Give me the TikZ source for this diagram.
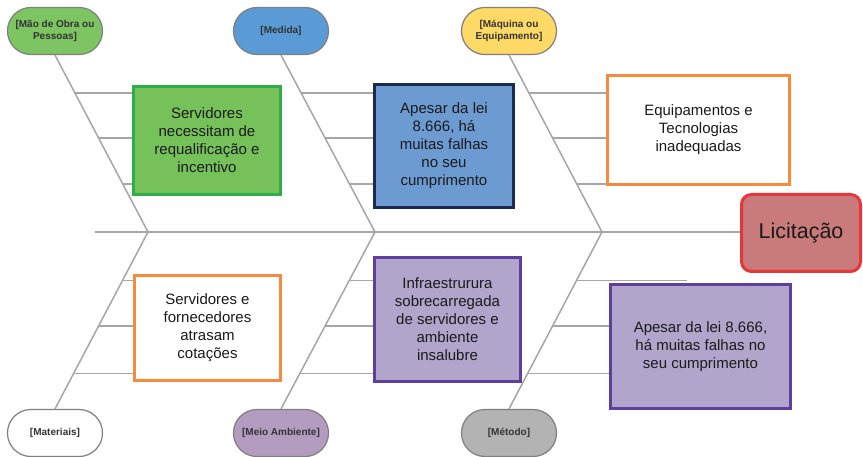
\documentclass[tikz,border=0pt]{standalone}
\usepackage{fontspec}
\setmainfont{Liberation Sans}
\usetikzlibrary{calc}
\definecolor{ribgray}{HTML}{A6A6A6}
\definecolor{catborder}{HTML}{7F7F7F}
\definecolor{labeltext}{HTML}{333333}
\definecolor{boxtext}{HTML}{1A1A1A}
\definecolor{catgreen}{HTML}{7DC462}
\definecolor{catblue}{HTML}{5B9BD5}
\definecolor{catyellow}{HTML}{FFD966}
\definecolor{catpurple}{HTML}{B49CC0}
\definecolor{catgray}{HTML}{B3B3B3}
\definecolor{gfill}{HTML}{77C15B}
\definecolor{gborder}{HTML}{2EAD4B}
\definecolor{bfill}{HTML}{6C9BD2}
\definecolor{bborder}{HTML}{1C2A4F}
\definecolor{oborder}{HTML}{F68B3F}
\definecolor{pfill}{HTML}{B1A5CB}
\definecolor{pborder}{HTML}{5E3E9E}
\definecolor{rfill}{HTML}{C97A7A}
\definecolor{rborder}{HTML}{E8353A}
\begin{document}
\begin{tikzpicture}[x=1pt,y=-1pt,
  rib/.style={draw=ribgray, line width=1.5pt},
  cat/.style={draw=catborder, line width=1.2pt, rounded corners=23.4pt,
    minimum width=95pt, minimum height=47pt, inner sep=0pt, align=center,
    font=\fontsize{10}{12}\selectfont\bfseries, text=labeltext},
  cause/.style={draw, line width=3pt, inner sep=0pt, align=center,
    font=\fontsize{15}{18}\selectfont, text=boxtext},
]
\useasboundingbox (0,0) rectangle (863,457);
\fill[white] (0,0) rectangle (863,457);

% category nodes
\node[cat, fill=catgreen]  (mao) at (55,31)  {[Mão de Obra ou\\Pessoas]};
\node[cat, fill=catblue]   (med) at (281,31) {[Medida]};
\node[cat, fill=catyellow] (maq) at (509,31) {[Máquina ou\\Equipamento]};
\node[cat, fill=white]     (mat) at (55,433) {[Materiais]};
\node[cat, fill=catpurple] (mei) at (281,433) {[Meio Ambiente]};
\node[cat, fill=catgray]   (met) at (509,433) {[Método]};

% joints on the spine
\coordinate (j1) at (148,232);
\coordinate (j2) at (375,232);
\coordinate (j3) at (602,232);
\coordinate (s0) at (95,232);

% spine and ribs
\draw[rib] (s0) -- (741,232);
\foreach \c/\j in {mao/j1,med/j2,maq/j3}{
  \draw[rib] (\c.south) -- (\j);
  \foreach \t in {0.215,0.469,0.729}{
    \draw[rib] ($(\c.south)!\t!(\j)$) -- ++(108,0);
  }
}
\foreach \c/\j in {mat/j1,mei/j2,met/j3}{
  \draw[rib] (\c.north) -- (\j);
  \foreach \t in {0.2,0.469,0.726}{
    \draw[rib] ($(\c.north)!\t!(\j)$) -- ++(110,0);
  }
}

% cause boxes
\node[cause, draw=gborder, fill=gfill, minimum width=147pt, minimum height=108pt]
  (c1) at (207,140.5) {Servidores\\necessitam de\\requalificação e\\incentivo};
\node[cause, draw=bborder, fill=bfill, minimum width=139pt, minimum height=123pt]
  (c2) at (444,146) {Apesar da lei\\8.666, há\\muitas falhas\\no seu\\cumprimento};
\node[cause, draw=oborder, fill=white, minimum width=182pt, minimum height=109pt]
  (c3) at (698.5,130) {Equipamentos e\\Tecnologias\\inadequadas};
\node[cause, draw=oborder, fill=white, minimum width=146pt, minimum height=105pt]
  (c4) at (207.5,328) {Servidores e\\fornecedores\\atrasam\\cotações};
\node[cause, draw=pborder, fill=pfill, minimum width=146pt, minimum height=124pt]
  (c5) at (447.5,319.5) {Infraestrurura\\sobrecarregada\\de servidores e\\ambiente\\insalubre};
\node[cause, draw=pborder, fill=pfill, minimum width=180pt, minimum height=124pt]
  (c6) at (700.5,346.5) {Apesar da lei 8.666,\\há muitas falhas no\\seu cumprimento};

% effect
\node[draw=rborder, fill=rfill, line width=3pt, rounded corners=10pt,
  minimum width=119pt, minimum height=77pt, inner sep=0pt,
  font=\fontsize{21.5}{24}\selectfont, text=boxtext] (eff) at (801,233) {Licitação};
\end{tikzpicture}
\end{document}
